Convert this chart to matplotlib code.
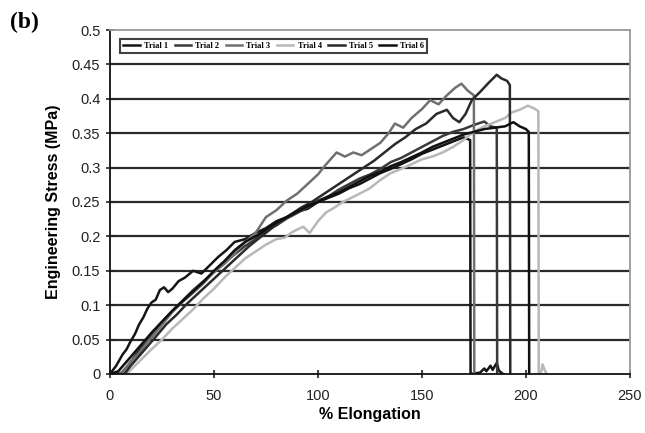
import matplotlib
matplotlib.use('Agg')
import matplotlib.pyplot as plt

plt.rcParams['font.family'] = ['Liberation Sans', 'DejaVu Sans']

# Trial 1 - steep early rise, breaks at ~173 %
t1_x = [0, 3, 6, 8, 10, 12, 14, 16, 18, 20, 22, 24, 26, 28, 30, 33, 36, 40, 44, 48,
        52, 56, 60, 65, 70, 75, 80, 85, 90, 95, 100, 105, 110, 115, 120, 125, 130,
        135, 140, 145, 150, 155, 160, 165, 170, 173.2, 173.4, 178, 180, 181, 183, 184,
        186, 187, 189]
t1_y = [0, 0.012, 0.028, 0.036, 0.048, 0.058, 0.072, 0.082, 0.095, 0.104, 0.108,
        0.122, 0.126, 0.119, 0.124, 0.135, 0.140, 0.150, 0.146, 0.158, 0.170, 0.180,
        0.192, 0.196, 0.205, 0.212, 0.222, 0.228, 0.236, 0.240, 0.250, 0.256, 0.262,
        0.270, 0.276, 0.284, 0.292, 0.298, 0.305, 0.312, 0.320, 0.326, 0.332, 0.338,
        0.344, 0.340, 0.0, 0.002, 0.008, 0.004, 0.012, 0.006, 0.016, 0.005, 0.0]

# Trial 2
t2_x = [0, 5, 8, 11, 14, 17, 20, 24, 28, 32, 36, 40, 45, 50, 55, 60, 65, 70, 75, 80,
        85, 90, 95, 100, 105, 110, 115, 120, 125, 130, 135, 140, 145, 150, 155, 160,
        165, 170, 175, 180, 183, 186, 186.2]
t2_y = [0, 0.0, 0.01, 0.022, 0.035, 0.045, 0.058, 0.072, 0.085, 0.098, 0.11, 0.122,
        0.135, 0.148, 0.162, 0.174, 0.186, 0.196, 0.208, 0.216, 0.226, 0.234, 0.242,
        0.252, 0.258, 0.268, 0.276, 0.284, 0.29, 0.298, 0.308, 0.314, 0.322, 0.33,
        0.338, 0.346, 0.352, 0.356, 0.362, 0.367, 0.36, 0.358, 0.0]

# Trial 3
t3_x = [0, 6, 10, 14, 18, 22, 26, 30, 35, 40, 45, 50, 55, 60, 65, 70, 75, 80, 85, 90,
        95, 100, 104, 109, 113, 117, 121, 125, 130, 134, 137, 141, 145, 150, 154, 158,
        162, 166, 169, 172, 175, 175.2]
t3_y = [0, 0.002, 0.018, 0.03, 0.046, 0.06, 0.075, 0.09, 0.105, 0.118, 0.132, 0.148,
        0.16, 0.175, 0.192, 0.205, 0.228, 0.238, 0.252, 0.262, 0.276, 0.29, 0.305,
        0.322, 0.316, 0.322, 0.318, 0.326, 0.336, 0.35, 0.364, 0.358, 0.372, 0.385,
        0.398, 0.392, 0.405, 0.416, 0.422, 0.412, 0.405, 0.0]

# Trial 4 - light grey, longest
t4_x = [0, 8, 12, 16, 20, 25, 30, 35, 40, 45, 50, 55, 60, 65, 70, 75, 80, 84, 87, 90,
        93, 96, 100, 104, 108, 112, 116, 120, 125, 130, 135, 140, 145, 150, 155, 160,
        165, 170, 175, 180, 185, 190, 193, 197, 201, 204, 206, 206.2, 207.5, 208, 209,
        210]
t4_y = [0, 0.0, 0.012, 0.024, 0.036, 0.05, 0.066, 0.08, 0.094, 0.11, 0.124, 0.14,
        0.154, 0.168, 0.178, 0.188, 0.196, 0.198, 0.205, 0.21, 0.214, 0.205, 0.222,
        0.235, 0.242, 0.25, 0.256, 0.262, 0.27, 0.282, 0.292, 0.298, 0.305, 0.312,
        0.316, 0.322, 0.33, 0.34, 0.352, 0.36, 0.366, 0.372, 0.38, 0.384, 0.39, 0.386,
        0.382, 0.0, 0.004, 0.014, 0.006, 0.0]

# Trial 5 - highest stress
t5_x = [0, 7, 10, 14, 18, 22, 27, 32, 37, 42, 47, 52, 57, 62, 67, 72, 77, 82, 87, 92,
        97, 102, 107, 112, 117, 122, 127, 132, 137, 142, 147, 152, 157, 162, 165, 168,
        171, 174, 178, 182, 186, 188, 191, 192.3, 192.5]
t5_y = [0, 0.0, 0.012, 0.026, 0.04, 0.054, 0.072, 0.086, 0.102, 0.116, 0.13, 0.144,
        0.158, 0.172, 0.186, 0.198, 0.21, 0.222, 0.232, 0.242, 0.25, 0.26, 0.27, 0.28,
        0.29, 0.3, 0.31, 0.322, 0.334, 0.344, 0.356, 0.364, 0.378, 0.384, 0.372, 0.366,
        0.378, 0.398, 0.41, 0.423, 0.435, 0.43, 0.426, 0.42, 0.0]

# Trial 6
t6_x = [0, 4, 8, 12, 16, 20, 25, 30, 35, 40, 45, 50, 55, 60, 65, 70, 75, 80, 85, 90,
        95, 100, 105, 110, 115, 120, 125, 130, 135, 140, 145, 150, 155, 160, 165, 170,
        175, 180, 185, 190, 194, 197, 200, 201.4, 201.6]
t6_y = [0, 0.004, 0.018, 0.032, 0.046, 0.06, 0.076, 0.092, 0.106, 0.12, 0.134, 0.15,
        0.164, 0.18, 0.192, 0.2, 0.21, 0.22, 0.228, 0.236, 0.244, 0.25, 0.258, 0.264,
        0.272, 0.28, 0.288, 0.294, 0.302, 0.308, 0.315, 0.322, 0.33, 0.336, 0.342,
        0.348, 0.352, 0.356, 0.358, 0.36, 0.366, 0.36, 0.356, 0.352, 0.0]

labels = ['Trial 1', 'Trial 2', 'Trial 3', 'Trial 4', 'Trial 5', 'Trial 6']
colors = ['#151515', '#3a3a3a', '#707070', '#b8b8b8', '#2a2a2a', '#101010']
series = [(t1_x, t1_y), (t2_x, t2_y), (t3_x, t3_y), (t4_x, t4_y), (t5_x, t5_y), (t6_x, t6_y)]

fig = plt.figure(figsize=(6.45, 4.33), dpi=100)
ax = fig.add_axes([0.1705, 0.1363, 0.806, 0.7944])

for yv in [0.05, 0.1, 0.15, 0.2, 0.25, 0.3, 0.35, 0.4, 0.45]:
    ax.axhline(yv, color='#2a2a2a', lw=1.6, zorder=1)

for (xs, ys), lab, c in zip(series, labels, colors):
    ax.plot(xs, ys, color=c, lw=1.8, label=lab, zorder=2)

ax.set_xlim(0, 250)
ax.set_ylim(0, 0.5)
ax.set_xticks([0, 50, 100, 150, 200, 250])
ax.set_yticks([0, 0.05, 0.1, 0.15, 0.2, 0.25, 0.3, 0.35, 0.4, 0.45, 0.5])
ax.set_yticklabels(['0', '0.05', '0.1', '0.15', '0.2', '0.25', '0.3', '0.35', '0.4', '0.45', '0.5'])
ax.tick_params(axis='both', direction='inout', length=6, width=1.2, labelsize=10.5,
               colors='#222222', pad=4)
ax.tick_params(axis='x', pad=8)
for s in ['left', 'bottom']:
    ax.spines[s].set_color('#111111')
    ax.spines[s].set_linewidth(1.3)
for s in ['top', 'right']:
    ax.spines[s].set_color('#999999')
    ax.spines[s].set_linewidth(1.3)

ax.set_xlabel('% Elongation', fontsize=11.5, fontweight='bold', labelpad=3)
ax.set_ylabel('Engineering Stress (MPa)', fontsize=11.5, fontweight='bold', labelpad=8)

leg = ax.legend(loc='upper left', bbox_to_anchor=(0.012, 0.985), ncol=6,
                frameon=True, fancybox=False, handlelength=2.0, handletextpad=0.5,
                columnspacing=0.75, borderpad=0.35,
                prop={'weight': 'bold', 'size': 6, 'family': 'Liberation Serif'})
leg.get_frame().set_edgecolor('#111111')
leg.get_frame().set_linewidth(1.5)

fig.text(0.016, 0.935, '(b)', fontsize=17, fontweight='bold', family='Liberation Serif')

fig.savefig('out.png', dpi=100)
